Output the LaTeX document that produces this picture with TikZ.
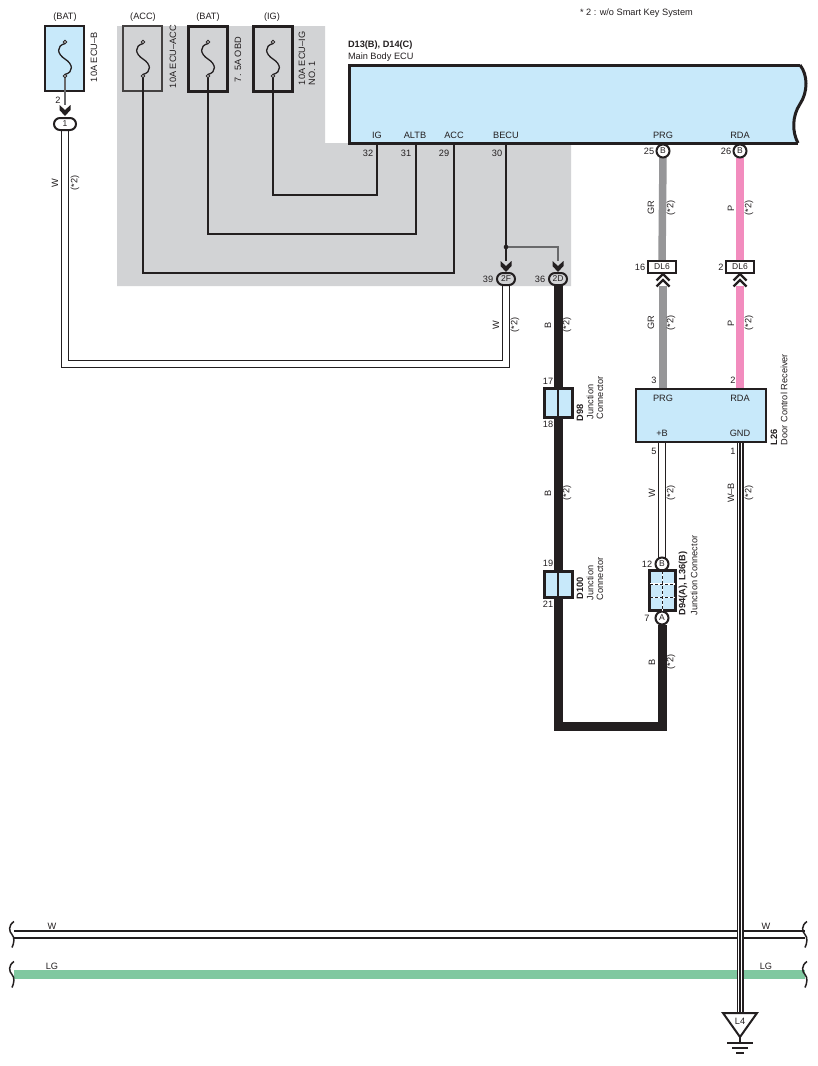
\documentclass[tikz,border=0pt]{standalone}
\usepackage{fontspec}
\setmainfont{Liberation Sans}
\definecolor{txt}{RGB}{35,31,32}
\definecolor{graybg}{RGB}{210,211,213}
\definecolor{lblue}{RGB}{200,233,250}
\definecolor{wgray}{RGB}{150,150,152}
\definecolor{wpink}{RGB}{242,140,190}
\definecolor{wgreen}{RGB}{128,200,160}
\definecolor{wdark}{RGB}{105,105,107}
\newcommand\FuseCurve[1]{\draw[line width=1.3pt,txt] (#1,43.5) .. controls (#1-9,46) and (#1-8,54) .. (#1,59) .. controls (#1+8,64) and (#1+9,72) .. (#1,74.5);}
\newcommand\ChevDown[2]{\fill[txt] (#1,#2) -- ++(-5.5,-6) -- ++(0,-5) -- ++(5.5,5) -- ++(5.5,-5) -- ++(0,5) -- cycle;}
\newcommand\ChevUp[2]{\draw[txt,line width=2.2pt] (#1-6.5,#2+6.5) -- (#1,#2) -- (#1+6.5,#2+6.5); \draw[txt,line width=2.2pt] (#1-6.5,#2+12.5) -- (#1,#2+6) -- (#1+6.5,#2+12.5);}
\newcommand\BreakMark[2]{\draw[txt,line width=1.5pt] (#1+2,#2-13) .. controls (#1-4,#2-9) and (#1-3,#2-3) .. (#1,#2) .. controls (#1+3,#2+3) and (#1+2,#2+9) .. (#1,#2+13);}
\begin{document}
\begin{tikzpicture}[x=1pt,y=-1pt,
  every node/.style={inner sep=0pt, outer sep=0pt, text=txt, font=\fontsize{9.2}{11}\selectfont},
  rl/.style={rotate=90},
  rlw/.style={rotate=90, anchor=west},
  bfont/.style={font=\fontsize{9.2}{11}\selectfont\bfseries},
  thinw/.style={draw=txt, line width=1.2pt},
  fusebox/.style={draw, minimum width=39pt, minimum height=65pt},
  fusept/.style={circle, draw=txt, fill=white, minimum size=3.6pt, line width=0.9pt},
  oval/.style={draw=txt, line width=2pt, rounded corners=6pt, minimum height=12pt, minimum width=18pt, font=\fontsize{8.5}{10}\selectfont},
  pincirc/.style={circle, draw=txt, line width=2pt, fill=white, minimum size=13pt, font=\fontsize{8.5}{10}\selectfont},
  wirew/.style={draw=txt, line width=1.2pt, double=white, double distance=5.6pt, line join=miter},
  jbox/.style={draw=txt, line width=3pt, fill=lblue, minimum width=28pt},
  dlbox/.style={draw=txt, line width=2.2pt, fill=white, minimum width=28pt, minimum height=12pt, font=\fontsize{8.5}{10}\selectfont}
]
\useasboundingbox (0,0) rectangle (818,1066);
\fill[white] (0,0) rectangle (818,1066);

% shaded area
\fill[graybg] (117,26) -- (325,26) -- (325,143) -- (571,143) -- (571,286) -- (117,286) -- cycle;

% fuse boxes
\node[fusebox, fill=lblue, draw=txt, line width=1.6pt] (fB) at (64.5,58.5) {};
\node[fusebox, draw=txt!85, line width=2pt] (fACC) at (142.5,58.5) {};
\node[fusebox, draw=txt, line width=3pt] (fOBD) at (208,58.5) {};
\node[fusebox, draw=txt, line width=3pt] (fIG) at (272.5,58.5) {};
\FuseCurve{65}
\FuseCurve{143}
\FuseCurve{208}
\FuseCurve{273}
\node[fusept] (fBt) at (65,42) {};
\node[fusept] (fACCt) at (143,42) {};
\node[fusept] (fOBDt) at (208,42) {};
\node[fusept] (fIGt) at (273,42) {};
\node[fusept] (fBb) at (65,76) {};
\node[fusept] (fACCb) at (143,76) {};
\node[fusept] (fOBDb) at (208,76) {};
\node[fusept] (fIGb) at (273,76) {};

% coordinates
\coordinate (pIG) at (377,144);
\coordinate (pALTB) at (416,144);
\coordinate (pACC) at (454,144);
\coordinate (pBECU) at (506,144);
\coordinate (k32) at (377,195);
\coordinate (k31) at (416,234);
\coordinate (k29) at (454,273);
\coordinate (jB) at (506,247);
\coordinate (a2F) at (506,261);
\coordinate (a2D) at (558,261);
\coordinate (aB) at (65,105);
\coordinate (kWl) at (65,364);
\coordinate (kWr) at (506,364);
\coordinate (kB1) at (558,726);
\coordinate (kB2) at (662,726);
\coordinate (g16) at (663,286);
\coordinate (g2) at (740,286);
\coordinate (dPRG) at (663,400);
\coordinate (dRDA) at (740,400);
\coordinate (dB) at (662,430);
\coordinate (dG) at (740,430);
\coordinate (gTop) at (740,1020);
\coordinate (hW1) at (14,934.5);
\coordinate (hW2) at (805,934.5);
\coordinate (hL1) at (14,974.5);
\coordinate (hL2) at (805,974.5);

% connectors (placed first for names; drawn later on top)
\path (65,124) node[oval, draw=none, minimum width=22pt] (c1) {};
\path (506,279) node[oval, draw=none, minimum width=18pt] (c2F) {};
\path (558,279) node[oval, draw=none, minimum width=18pt] (c2D) {};
\path (663,151) node[pincirc, draw=none, fill=none] (cB25) {};
\path (740,151) node[pincirc, draw=none, fill=none] (cB26) {};
\path (662,564) node[pincirc, draw=none, fill=none] (cB12) {};
\path (662,618) node[pincirc, draw=none, fill=none] (cA7) {};
\path (662,267) node[dlbox, draw=none, fill=none] (dl16) {};
\path (740,267) node[dlbox, draw=none, fill=none] (dl2) {};

% wires inside shaded area
\draw[thinw] (fIGb.south) |- (k32) -- (pIG);
\draw[thinw] (fOBDb.south) |- (k31) -- (pALTB);
\draw[thinw] (fACCb.south) |- (k29) -- (pACC);
\draw[thinw] (pBECU) -- (a2F);
\draw[draw=wdark, line width=1.2pt] (jB) -| (a2D);
\fill[txt] (jB) circle (2.3);
\draw[draw=wdark, line width=1.2pt] (fBb.south) -- (aB);

% W wire from connector 1 to 2F
\draw[wirew] (c1.south) -- (kWl) -- (kWr) -- (c2F.south);
% thick B wire
\draw[txt, line width=9pt, line join=miter] (c2D.south) -- (kB1) -- (kB2) -- (cA7.south);
% GR and P wires
\draw[wgray, line width=7.5pt] (cB25.south) -- (dl16.north);
\draw[wgray, line width=7.5pt] (g16) -- (dPRG);
\draw[wpink, line width=7.5pt] (cB26.south) -- (dl2.north);
\draw[wpink, line width=7.5pt] (g2) -- (dRDA);
% +B W wire
\draw[wirew] (dB) -- (cB12.north);

% bottom horizontal wires
\draw[draw=txt, line width=1.2pt, double=white, double distance=5.8pt] (hW1) -- (hW2);
\draw[wgreen, line width=9pt] (hL1) -- (hL2);
\BreakMark{12}{934.5}
\BreakMark{12}{974.5}
\BreakMark{805}{934.5}
\BreakMark{805}{974.5}

% W-B wire
\draw[txt, line width=7pt] (dG) -- (gTop);
\draw[white, line width=4.6pt] (dG) -- (gTop);
\draw[txt, line width=1.1pt] (dG) -- (gTop);

% Main Body ECU
\fill[lblue] (349,65) -- (800,65) .. controls (808,75) and (808,92) .. (800,104) .. controls (792,116) and (792,132) .. (798,143) -- (349,143) -- cycle;
\draw[txt, line width=3pt, line join=miter] (800,65) .. controls (808,75) and (808,92) .. (800,104) .. controls (792,116) and (792,132) .. (798,143);
\draw[txt, line width=3pt, line join=miter] (800,65) -- (349,65) -- (349,143) -- (798,143);

% arrows
\ChevDown{65}{116}
\ChevDown{506}{272}
\ChevDown{558}{272}

% connectors drawn
\node[oval, fill=white, minimum width=22pt] (c1v) at (c1) {1};
\node[oval, fill=graybg] (c2Fv) at (c2F) {2F};
\node[oval, fill=graybg] (c2Dv) at (c2D) {2D};
\node[pincirc] (cB25v) at (cB25) {B};
\node[pincirc] (cB26v) at (cB26) {B};
\node[pincirc] (cB12v) at (cB12) {B};
\node[pincirc] (cA7v) at (cA7) {A};
\node[dlbox] (dl16v) at (dl16) {DL6};
\node[dlbox] (dl2v) at (dl2) {DL6};
\ChevUp{663}{274}
\ChevUp{740}{274}

% junction connectors
\node[jbox, minimum height=29pt] (d98) at (558,402.5) {};
\draw[txt, line width=1.5pt] (d98.north) -- (d98.south);
\node[jbox, minimum height=26pt] (d100) at (558,584) {};
\draw[txt, line width=1.5pt] (d100.north) -- (d100.south);
\node[draw=txt, line width=2.5pt, fill=lblue, minimum width=26pt, minimum height=40pt] (d94) at (662.5,590.5) {};
\draw[white, line width=1.6pt] (d94.north) -- (d94.south);
\draw[white, line width=1.6pt] (650,584) -- (675,584);
\draw[white, line width=1.6pt] (650,597.5) -- (675,597.5);
\draw[txt, line width=0.9pt, dash pattern=on 3pt off 2pt] (d94.north) -- (d94.south);
\draw[txt, line width=0.9pt, dash pattern=on 3pt off 2pt] (650,584) -- (675,584);
\draw[txt, line width=0.9pt, dash pattern=on 3pt off 2pt] (650,597.5) -- (675,597.5);

% door control receiver
\node[draw=txt, line width=2.5pt, fill=lblue, minimum width=130pt, minimum height=53pt] (dcr) at (701,415.5) {};

% ground
\draw[txt, line width=2pt, fill=white, line join=miter] (723,1013) -- (757,1013) -- (740,1037) -- cycle;
\node (tL4) at (740,1021.5) {L4};
\draw[txt, line width=1.2pt] (740,1037) -- (740,1043);
\draw[txt, line width=1.2pt] (727,1043) -- (753,1043);
\draw[txt, line width=1.2pt] (732,1048) -- (748,1048);
\draw[txt, line width=1.2pt] (736,1053) -- (744,1053);

% texts
\node (tBAT1) at (65,17) {(BAT)};
\node (tACC) at (143,17) {(ACC)};
\node (tBAT2) at (208,17) {(BAT)};
\node (tIG) at (272,17) {(IG)};
\node[anchor=west] (tNote) at (580,13) {* 2 : w/o Smart Key System};
\node[anchor=west,bfont] (tECU1) at (348,45) {D13(B), D14(C)};
\node[anchor=west] (tECU2) at (348,57) {Main Body ECU};
\node[rlw] (tF1) at (94,82) {10A ECU–B};
\node[rlw] (tF2) at (173,88) {10A ECU–ACC};
\node[rlw] (tF3) at (238,82) {7. 5A OBD};
\node[rlw] (tF4) at (302,85) {10A ECU–IG};
\node[rlw] (tF4b) at (312,85) {NO. 1};

\node (pnIG) at (377,135) {IG};
\node (pnALTB) at (415,135) {ALTB};
\node (pnACC) at (454,135) {ACC};
\node (pnBECU) at (506,135) {BECU};
\node (pnPRG) at (663,135) {PRG};
\node (pnRDA) at (740,135) {RDA};
\node (n32) at (368,153) {32};
\node (n31) at (406,153) {31};
\node (n29) at (444,153) {29};
\node (n30) at (497,153) {30};
\node (n25) at (649,151) {25};
\node (n26) at (726,151) {26};
\node (n2a) at (58,100) {2};
\node (n39) at (488,279) {39};
\node (n36) at (540,279) {36};
\node (n16) at (640,267) {16};
\node (n2b) at (721,267) {2};
\node (n17) at (548,381) {17};
\node (n18) at (548,424) {18};
\node (n19) at (548,563) {19};
\node (n21) at (548,604) {21};
\node (n3) at (654,380) {3};
\node (n2c) at (733,380) {2};
\node (n5) at (654,451) {5};
\node (n1) at (733,451) {1};
\node (n12) at (647,564) {12};
\node (n7) at (647,618) {7};

\node (dPRGt) at (663,398) {PRG};
\node (dRDAt) at (740,398) {RDA};
\node (dBt) at (662,433) {+B};
\node (dGt) at (740,433) {GND};

% wire labels
\node[rl] (w1) at (55,183) {W};
\node[rl] (w1s) at (75,183) {(*2)};
\node[rl] (w2) at (496,325) {W};
\node[rl] (w2s) at (515,325) {(*2)};
\node[rl] (b1) at (548,325) {B};
\node[rl] (b1s) at (567,325) {(*2)};
\node[rl] (b2) at (548,493) {B};
\node[rl] (b2s) at (567,493) {(*2)};
\node[rl] (gr1) at (651,208) {GR};
\node[rl] (gr1s) at (671,208) {(*2)};
\node[rl] (gr2) at (651,323) {GR};
\node[rl] (gr2s) at (671,323) {(*2)};
\node[rl] (p1) at (731,208) {P};
\node[rl] (p1s) at (749,208) {(*2)};
\node[rl] (p2) at (731,323) {P};
\node[rl] (p2s) at (749,323) {(*2)};
\node[rl] (w3) at (652,493) {W};
\node[rl] (w3s) at (671,493) {(*2)};
\node[rl] (wb) at (731,493) {W–B};
\node[rl] (wbs) at (749,493) {(*2)};
\node[rl] (b3) at (652,662) {B};
\node[rl] (b3s) at (671,662) {(*2)};

% component labels
\node[rlw,bfont] (lD98) at (580,421) {D98};
\node[rlw] (lD98b) at (590,419) {Junction};
\node[rlw] (lD98c) at (600,419) {Connector};
\node[rlw,bfont] (lD100) at (580,599) {D100};
\node[rlw] (lD100b) at (590,600) {Junction};
\node[rlw] (lD100c) at (600,600) {Connector};
\node[rlw,bfont] (lD94) at (683,615) {D94(A), L36(B)};
\node[rlw] (lD94b) at (694,615) {Junction Connector};
\node[rlw,bfont] (lL26) at (774,445) {L26};
\node[rlw] (lL26b) at (784,445) {Door Control Receiver};

% bottom labels
\node (bw1) at (52,926) {W};
\node (bl1) at (52,966) {LG};
\node (bw2) at (766,926) {W};
\node (bl2) at (766,966) {LG};
\end{tikzpicture}
\end{document}
